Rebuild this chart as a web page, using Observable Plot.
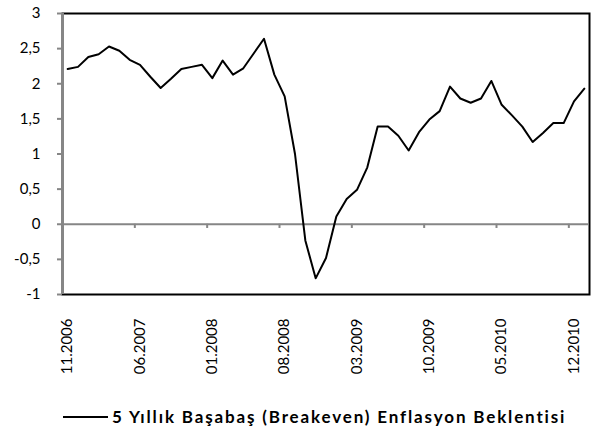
<!DOCTYPE html>
<html><head><meta charset="utf-8">
<script src="https://cdn.jsdelivr.net/npm/d3@7"></script>
<script src="https://cdn.jsdelivr.net/npm/@observablehq/plot@0.6"></script>
<style>
html,body{margin:0;padding:0;background:#fff;}
#chart svg{display:block;}
#legend{position:relative;width:611px;height:39px;font-family:Lato,sans-serif;}
#legend .sw{position:absolute;left:63px;top:21px;width:45px;height:0;border-top:2px solid #000;}
#legend .lb{position:absolute;left:112px;top:12px;font-weight:bold;font-size:17px;letter-spacing:1.85px;line-height:20px;color:#000;white-space:nowrap;}
</style></head>
<body>
<div id="chart"></div>
<div id="legend"><span class="sw"></span><span class="lb" id="lbl"></span></div>
<script>
// Monthly categories 11.2006 .. 01.2011
const months = ["11.2006","12.2006",
 "01.2007","02.2007","03.2007","04.2007","05.2007","06.2007","07.2007","08.2007","09.2007","10.2007","11.2007","12.2007",
 "01.2008","02.2008","03.2008","04.2008","05.2008","06.2008","07.2008","08.2008","09.2008","10.2008","11.2008","12.2008",
 "01.2009","02.2009","03.2009","04.2009","05.2009","06.2009","07.2009","08.2009","09.2009","10.2009","11.2009","12.2009",
 "01.2010","02.2010","03.2010","04.2010","05.2010","06.2010","07.2010","08.2010","09.2010","10.2010","11.2010","12.2010",
 "01.2011"];
const values = [2.21,2.24,2.38,2.42,2.53,2.47,2.34,2.27,2.10,1.94,
 2.07,2.21,2.24,2.27,2.08,2.33,2.13,2.22,2.43,2.64,
 2.13,1.82,1.00,-0.23,-0.77,-0.48,0.11,0.36,0.49,0.81,
 1.39,1.39,1.26,1.05,1.31,1.49,1.61,1.96,1.79,1.73,
 1.79,2.04,1.70,1.55,1.39,1.17,1.30,1.44,1.44,1.75,
 1.93];
const tickLabels = ["11.2006","06.2007","01.2008","08.2008","03.2009","10.2009","05.2010","12.2010"];
const yTicks = [-1,-0.5,0,0.5,1,1.5,2,2.5,3];
const seriesName = "5 Yıllık Başabaş (Breakeven) Enflasyon Beklentisi";

const data = values.map((v, i) => ({i, month: months[i], v}));
const labelIdx = tickLabels.map(l => months.indexOf(l));
const boundaries = labelIdx.filter(i => i > 0).map(i => i - 0.5);
const fmt = d => String(d).replace(".", ",");

const chart = Plot.plot({
  width: 611,
  height: 395,
  marginLeft: 62,
  marginRight: 22,
  marginTop: 13,
  marginBottom: 101,
  style: {fontFamily: "Lato, sans-serif", background: "#fff", color: "#000"},
  x: {domain: [-0.5, months.length - 0.5]},
  y: {domain: [-1, 3]},
  marks: [
    Plot.frame({stroke: "#000", strokeWidth: 2}),
    Plot.ruleY([0], {stroke: "#868686", strokeWidth: 2}),
    Plot.ruleX(boundaries, {x: d => d, y1: 0, y2: -0.06, stroke: "#868686", strokeWidth: 2}),
    Plot.ruleX([-0.5], {stroke: "#868686", strokeWidth: 3}),
    Plot.axisY({ticks: yTicks, tickFormat: fmt, tickSize: 5, tickPadding: 17, stroke: "#868686", strokeWidth: 2, fill: "#000", fontSize: 15, label: null}),
    Plot.axisX({ticks: labelIdx, tickFormat: i => months[i], tickRotate: -90, tickSize: 0, tickPadding: 24, fill: "#000", fontSize: 15, label: null}),
    Plot.line(data, {x: "i", y: "v", stroke: "#000", strokeWidth: 2})
  ]
});
document.getElementById("chart").appendChild(chart);
document.getElementById("lbl").textContent = seriesName;
</script>
</body></html>
